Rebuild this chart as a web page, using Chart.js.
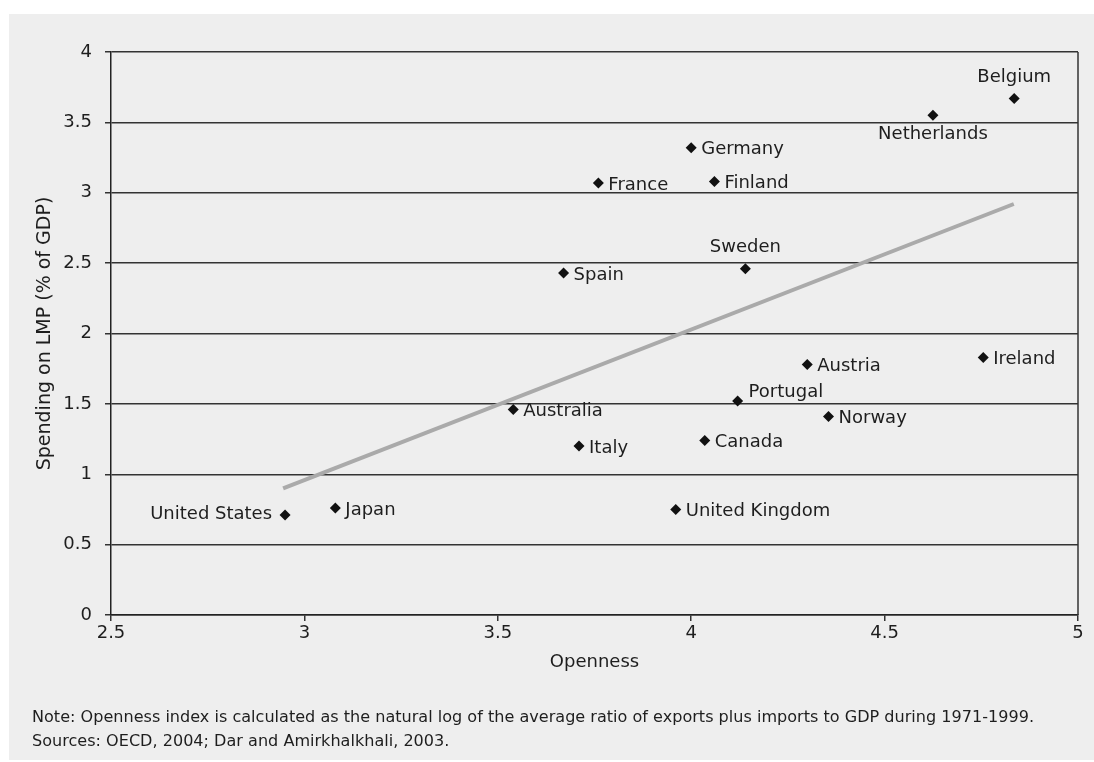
<!DOCTYPE html>
<html>
<head>
<meta charset="utf-8">
<script src="https://cdn.jsdelivr.net/npm/chart.js@4"></script>
<style>
  html, body { margin: 0; padding: 0; background: #fff; }
  #wrap { width: 1094px; height: 762px; }
</style>
</head>
<body>
<div id="wrap"><canvas id="scatterChart" width="1094" height="762"></canvas></div>
<script>
// data
const countries = ['United States', 'Japan', 'Australia', 'Italy', 'Spain', 'France', 'Germany', 'Finland',
  'Sweden', 'United Kingdom', 'Canada', 'Portugal', 'Austria', 'Norway', 'Ireland', 'Netherlands', 'Belgium'];
const openness = [2.95, 3.08, 3.54, 3.71, 3.67, 3.76, 4.00, 4.06, 4.14, 3.96, 4.035, 4.12, 4.30, 4.355, 4.755, 4.625, 4.835];
const lmpSpending = [0.71, 0.76, 1.46, 1.20, 2.43, 3.07, 3.32, 3.08, 2.46, 0.75, 1.24, 1.52, 1.78, 1.41, 1.83, 3.55, 3.67];
const trendX = [2.945, 4.834];
const trendY = [0.90, 2.92];
const xTicks = { min: 2.5, max: 5, step: 0.5 };
const yTicks = { min: 0, max: 4, step: 0.5 };

// where each country name sits next to its marker
const labelPlace = ['left', 'right', 'right', 'right', 'right', 'right', 'right', 'right',
  'above', 'right', 'right', 'aboveRight', 'right', 'right', 'right', 'below', 'above'];

const FONT = '"DejaVu Sans", "Liberation Sans", Arial, sans-serif';
const INK = '#1e1e1e';

const points = countries.map((c, i) => ({ x: openness[i], y: lmpSpending[i] }));
const trend = trendX.map((x, i) => ({ x: x, y: trendY[i] }));
const plainNum = v => String(Math.round(v * 10) / 10);

// gray panel behind the chart and the frame on the right
const panel = {
  id: 'panel',
  beforeDraw(chart) {
    const c = chart.ctx;
    c.save();
    c.fillStyle = '#fff';
    c.fillRect(0, 0, chart.width, chart.height);
    c.fillStyle = '#eeeeee';
    c.fillRect(9, 14, chart.width - 9, chart.height - 16);
    c.restore();
  },
  beforeDatasetsDraw(chart) {
    const a = chart.chartArea, c = chart.ctx;
    c.save();
    c.strokeStyle = '#333';
    c.lineWidth = 1.5;
    c.beginPath();
    c.moveTo(a.right, a.top);
    c.lineTo(a.right, a.bottom);
    c.stroke();
    c.restore();
  }
};

// country names + note under the chart
const names = {
  id: 'names',
  afterDatasetsDraw(chart) {
    const c = chart.ctx;
    const meta = chart.getDatasetMeta(0);
    c.save();
    c.font = '18px ' + FONT;
    c.fillStyle = INK;
    c.textBaseline = 'middle';
    meta.data.forEach((pt, i) => {
      const p = labelPlace[i];
      let x = pt.x, y = pt.y;
      if (p === 'right') { c.textAlign = 'left'; x += 10; y += 2; }
      else if (p === 'left') { c.textAlign = 'right'; x -= 13; y -= 1; }
      else if (p === 'above') { c.textAlign = 'center'; y -= 21; }
      else if (p === 'below') { c.textAlign = 'center'; y += 19; }
      else if (p === 'aboveRight') { c.textAlign = 'left'; x += 11; y -= 9; }
      c.fillText(countries[i], x, y);
    });
    c.restore();
  },
  afterDraw(chart) {
    const c = chart.ctx;
    const lines = [
      'Note: Openness index is calculated as the natural log of the average ratio of exports plus imports to GDP during 1971-1999.',
      'Sources: OECD, 2004; Dar and Amirkhalkhali, 2003.'
    ];
    c.save();
    c.font = '15px ' + FONT;
    c.fillStyle = INK;
    c.textBaseline = 'middle';
    c.textAlign = 'left';
    const sx = 1002 / c.measureText(lines[0]).width;
    c.translate(32, 0);
    c.scale(sx, 1);
    c.fillText(lines[0], 0, 718);
    c.fillText(lines[1], 0, 742);
    c.restore();
  }
};

const ctx = document.getElementById('scatterChart');
new Chart(ctx, {
  data: {
    datasets: [{
      type: 'scatter',
      label: 'Countries',
      data: points,
      pointStyle: 'rectRot',
      pointRadius: 5.5,
      pointBackgroundColor: '#111',
      pointBorderWidth: 0,
      order: 0
    }, {
      type: 'line',
      label: 'Trend',
      data: trend,
      borderColor: '#aaaaaa',
      borderWidth: 4,
      pointRadius: 0,
      fill: false,
      order: 1
    }]
  },
  options: {
    responsive: false,
    animation: false,
    layout: { padding: { top: 52, right: 16, left: 0, bottom: 0 } },
    plugins: {
      legend: { display: false },
      tooltip: { enabled: false }
    },
    scales: {
      x: {
        type: 'linear',
        min: xTicks.min,
        max: xTicks.max,
        ticks: { stepSize: xTicks.step, color: INK, font: { family: FONT, size: 18 }, padding: 2, callback: plainNum },
        grid: { drawOnChartArea: false, drawTicks: true, tickLength: 6, color: '#333', lineWidth: 1.5 },
        border: { color: '#222', width: 1.5 },
        title: { display: true, text: 'Openness', color: INK, font: { family: FONT, size: 18 }, padding: { top: 0, bottom: 89 } },
        afterFit(scale) { scale.height = 147; }
      },
      y: {
        min: yTicks.min,
        max: yTicks.max,
        ticks: { stepSize: yTicks.step, color: INK, font: { family: FONT, size: 18 }, padding: 13, callback: plainNum },
        grid: { color: '#333', lineWidth: 1.5, tickLength: 6 },
        border: { color: '#222', width: 1.5 },
        title: { display: true, text: 'Spending on LMP (% of GDP)', color: INK, font: { family: FONT, size: 19 }, padding: { top: 34, bottom: 0 } },
        afterFit(scale) { scale.width = 111; }
      }
    }
  },
  plugins: [panel, names]
});
</script>
</body>
</html>
